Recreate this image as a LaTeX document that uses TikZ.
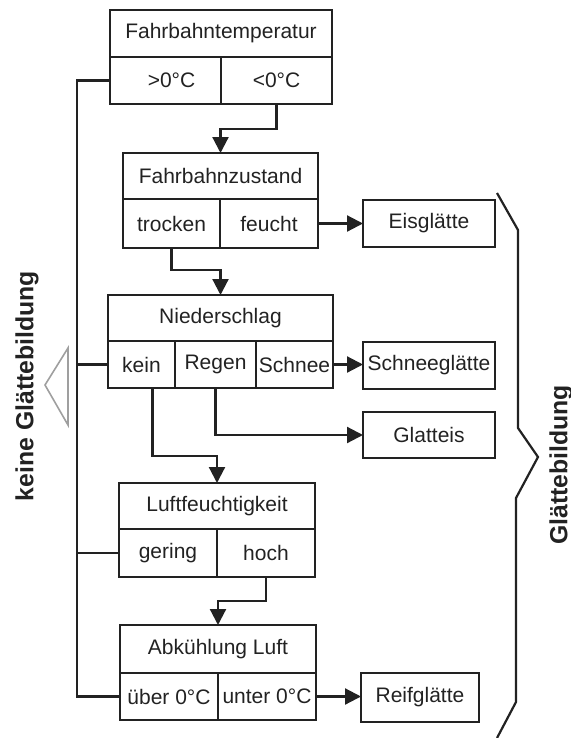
\documentclass[tikz,border=0pt]{standalone}
\usepackage{fontspec}
\setmainfont{Liberation Sans}
\usetikzlibrary{arrows.meta}
\definecolor{ink}{HTML}{222222}
\begin{document}
\begin{tikzpicture}[x=0.5pt,y=-0.5pt,
  sz/.style 2 args={minimum width={#1*0.5pt},minimum height={#2*0.5pt}},
  cell/.style={draw=ink,line width=1.2pt,inner sep=0pt,outer sep=0pt,text=ink,
    font=\fontsize{10.5}{12}\selectfont},
  conn/.style={draw=ink,line width=1.1pt},
  arr/.style={conn,-{Triangle[length=8pt,width=8pt]}},
  side/.style={text=ink,font=\fontsize{12.4}{14}\selectfont\bfseries,rotate=90}]
\useasboundingbox (0,0) rectangle (571,738);
% Box 1
\node[cell,sz={222}{47}] (h1) at (221,33.5) {Fahrbahntemperatur};
\node[cell,sz={111}{47}] (c11) at (165.5,80.5) {\hspace*{6pt}>0°C};
\node[cell,sz={111}{47}] (c12) at (276.5,80.5) {<0°C};
% Box 2
\node[cell,sz={195}{46}] (h2) at (220.5,176) {Fahrbahnzustand};
\node[cell,sz={97}{49}] (c21) at (171.5,223.5) {trocken};
\node[cell,sz={98}{49}] (c22) at (269,223.5) {feucht};
% Box 3
\node[cell,sz={225}{46}] (h3) at (220.5,318) {Niederschlag};
\node[cell,sz={67}{47}] (c31) at (141.5,364.5) {kein};
\node[cell,sz={81}{47}] (c32) at (215.5,364.5) {Regen};
\node[cell,sz={77}{47}] (c33) at (294.5,364.5) {Schnee};
% Box 4
\node[cell,sz={196}{46}] (h4) at (217,506) {Luftfeuchtigkeit};
\node[cell,sz={98}{48}] (c41) at (168,553) {gering};
\node[cell,sz={98}{48}] (c42) at (266,553) {hoch};
% Box 5
\node[cell,sz={196}{48}] (h5) at (218,649) {Abkühlung Luft};
\node[cell,sz={98}{47}] (c51) at (169,696.5) {über 0°C};
\node[cell,sz={98}{47}] (c52) at (267,696.5) {unter 0°C};
% Results
\node[cell,sz={132}{47}] (eis) at (429,223.5) {Eisglätte};
\node[cell,sz={132}{47}] (sg) at (429,365.5) {Schneeglätte};
\node[cell,sz={132}{46}] (gl) at (429,435) {Glatteis};
\node[cell,sz={118}{49}] (rf) at (420,697.5) {Reifglätte};
% left collector line
\coordinate (L) at (77,0);
\draw[conn] (c11.west) -- (c11.west -| L) |- (c51.west);
\draw[conn] (c31.west) -- (c31.west -| L);
\draw[conn] (c41.west) -- (c41.west -| L);
% connectors
\draw[arr] (c12.south) -- ++(0,25) -| (h2.north);
\draw[arr] (c21.south) -- ++(0,22) -| (h3.north);
\draw[arr] (c22.east) -- (eis.west);
\draw[arr] (c33.east) -- (c33.east -| sg.west);
\draw[arr] ([xshift=5.5pt]c31.south) -- ++(0,68) -| (h4.north);
\draw[arr] (c32.south) |- (gl.west);
\draw[arr] (c42.south) -- ++(0,24) -| (h5.north);
\draw[arr] (c52.east) -- (c52.east -| rf.west);
% gray triangle
\draw[gray!75,line width=0.8pt,line join=miter] (45,385) -- (68,348) -- (68,425) -- cycle;
% brace
\draw[conn,line join=miter] (497,193) -- (518,230) -- (518,428) -- (538,457) -- (516,498) -- (516,702) -- (497,738);
% side labels
\node[side] (kg) at (27,386) {keine Glättebildung};
\node[side] (gb) at (561,465) {Glättebildung};
\end{tikzpicture}
\end{document}
